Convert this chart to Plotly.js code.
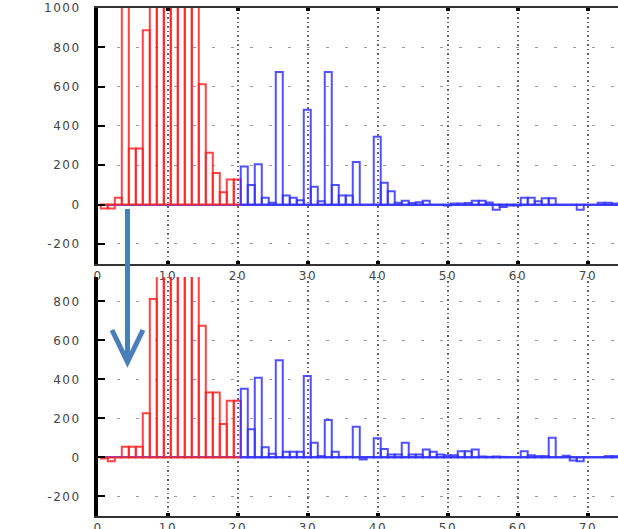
<!DOCTYPE html>
<html>
<head>
<meta charset="utf-8">
<script src="https://cdn.plot.ly/plotly-3.0.1.min.js"></script>
<style>
  html, body { margin: 0; padding: 0; background: #ffffff; }
  #chart { width: 618px; height: 529px; }
  .xtick text, .ytick text, .x2tick text, .y2tick text { letter-spacing: 1.5px; }
</style>
</head>
<body>
<div id="chart"></div>
<script>
// ---- data (bin index, value) ----
const redIndex  = [1,2,3,4,5,6,7,8,9,10,11,12,13,14,15,16,17,18,19,20];
const blueIndex = [21,22,23,24,25,26,27,28,29,30,31,32,33,34,35,36,37,38,39,40,
                   41,42,43,44,45,46,47,48,49,50,51,52,53,54,55,56,57,58,59,60,
                   61,62,63,64,65,66,67,68,69,70,71,72,73,74];

// upper panel (before shift)
const topRed  = [-20,-20,35,1150,285,285,887,1400,1900,2300,2100,1700,1300,1100,612,263,161,63,127,127];
const topBlue = [193,99,205,34,9,675,46,34,22,482,
                 91,17,675,99,46,46,217,0,0,345,
                 111,68,9,20,8,12,20,0,0,-5,
                 5,5,8,20,20,10,-26,-12,-5,-5,
                 34,34,17,32,32,0,0,0,-26,0,
                 0,9,9,5];

// lower panel (after shift)
const botRed  = [-5,-20,0,55,55,55,226,812,1200,1700,2100,1900,1500,1100,675,333,333,171,291,291];
const botBlue = [352,144,409,53,19,498,29,29,29,417,
                 75,7,192,29,3,3,157,-10,2,99,
                 44,15,15,75,15,15,41,29,15,12,
                 12,32,32,41,5,3,5,3,0,0,
                 32,12,7,7,101,0,9,-15,-19,0,
                 0,0,7,7];

const xTicks    = [0,10,20,30,40,50,60,70];
const yTicksTop = [-200,0,200,400,600,800,1000];
const yTicksBot = [-200,0,200,400,600,800];

// ---- styles ----
const RED  = 'rgba(255,35,35,0.85)';
const BLUE = 'rgba(50,50,255,0.85)';

function bars(x, y, color, xa, ya) {
  return {
    type: 'bar', x: x, y: y, xaxis: xa, yaxis: ya,
    width: 1, offset: -0.6,
    marker: { color: 'rgba(255,255,255,0)', line: { color: color, width: 2 } },
    hoverinfo: 'skip', showlegend: false
  };
}

const data = [
  bars(redIndex, topRed, RED, 'x', 'y'),
  bars(blueIndex, topBlue, BLUE, 'x', 'y'),
  bars(redIndex, botRed, RED, 'x2', 'y2'),
  bars(blueIndex, botBlue, BLUE, 'x2', 'y2')
];

const tickFont = { family: 'DejaVu Sans, sans-serif', size: 12, color: '#444' };

function xAxis(anchor, mirror) {
  return {
    anchor: anchor, range: [0, 74.3], tickvals: xTicks, ticktext: xTicks.map(String),
    showline: true, linecolor: '#333', linewidth: 2, mirror: mirror,
    ticks: 'inside', ticklen: 3, tickwidth: 4, tickcolor: '#000',
    showgrid: true, gridcolor: '#666', gridwidth: 1.5, griddash: '1.5px,3px',
    zeroline: false, tickfont: tickFont
  };
}
function yAxis(anchor, domain, range, vals) {
  return {
    anchor: anchor, domain: domain, range: range, tickvals: vals, ticktext: vals.map(String),
    showline: true, linecolor: '#000', linewidth: 4,
    ticks: 'inside', ticklen: 7, tickwidth: 2, tickcolor: '#000',
    showgrid: true, gridcolor: '#999', gridwidth: 1, griddash: '3px,16px',
    zeroline: true, zerolinecolor: BLUE, zerolinewidth: 2,
    tickfont: tickFont, ticklabelstandoff: 11
  };
}

const layout = {
  width: 618, height: 529,
  margin: { l: 98, r: 0, t: 8, b: 13 },
  paper_bgcolor: '#ffffff', plot_bgcolor: '#ffffff',
  barmode: 'overlay',
  showlegend: false,
  xaxis:  xAxis('y', 'ticks'),
  yaxis:  yAxis('x', [0.497, 1], [-300, 1000], yTicksTop),
  xaxis2: xAxis('y2', false),
  yaxis2: yAxis('x2', [0, 0.4705], [-300, 925], yTicksBot),
  shapes: [
    { type: 'line', xref: 'paper', yref: 'paper', x0: 0.0567, y0: 0.6043, x1: 0.0567, y1: 0.309,
      line: { color: '#4a7ebb', width: 5 }, layer: 'above' },
    { type: 'path', xref: 'paper', yref: 'paper',
      path: 'M 0.0269,0.3661 L 0.0567,0.3031 L 0.0865,0.3661',
      line: { color: '#4a7ebb', width: 5 }, layer: 'above' }
  ]
};

Plotly.newPlot('chart', data, layout, { displayModeBar: false, staticPlot: true });
</script>
</body>
</html>
